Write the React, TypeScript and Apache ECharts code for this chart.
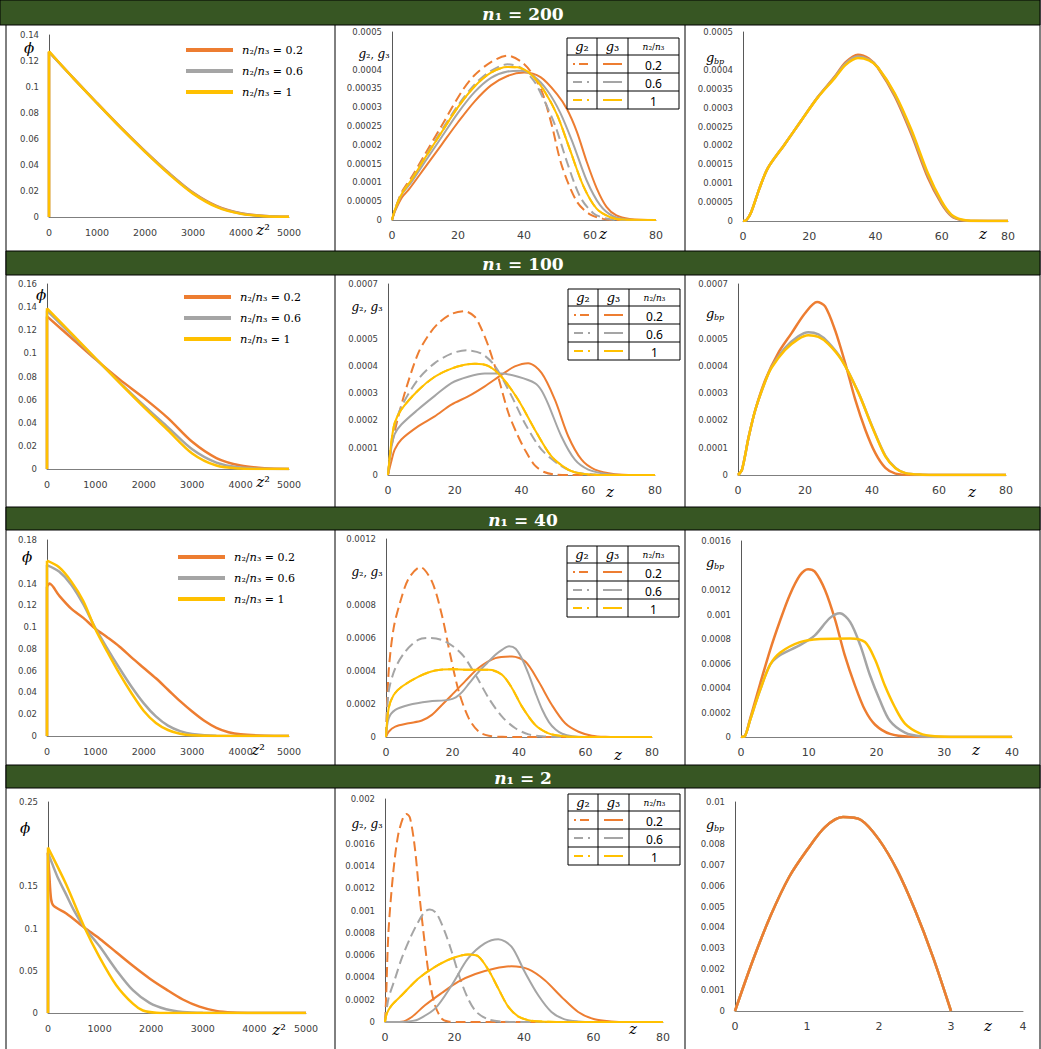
import React, { useEffect, useRef } from 'react';
import * as echarts from 'echarts';

const ORANGE = '#ED7D31';
const GRAY = '#A5A5A5';
const YELLOW = '#FFC000';
const GREEN = '#375623';

const N1_LABELS = ['200', '100', '40', '2'];
const RATIO_LABELS = ['0.2', '0.6', '1'];

// ---------- n1 = 200 ----------
const phi200_02 = [[0,0],[0,0.127],[500,0.1072],[1000,0.0877],[1500,0.0687],[2000,0.0507],[2500,0.0338],[3000,0.0188],[3500,0.0083],[4000,0.0029],[4500,0.0008],[5000,0.0002]];
const phi200_06 = [[0,0],[0,0.127],[500,0.1071],[1000,0.0876],[1500,0.0685],[2000,0.0504],[2500,0.0335],[3000,0.0185],[3500,0.008],[4000,0.0027],[4500,0.0007],[5000,0.0001]];
const phi200_1 = [[0,0],[0,0.1275],[500,0.107],[1000,0.0875],[1500,0.0683],[2000,0.0501],[2500,0.0330],[3000,0.0180],[3500,0.0076],[4000,0.0024],[4500,0.0006],[5000,0.0001]];

const g2_200_02 = [[0,0],[1,0.3e-4],[3,0.75e-4],[6,1.15e-4],[10,1.75e-4],[15,2.5e-4],[21,3.4e-4],[25,3.85e-4],[30,4.2e-4],[35,4.37e-4],[39,4.22e-4],[42,3.95e-4],[45.4,3.42e-4],[48.4,2.53e-4],[51.4,1.46e-4],[56,0.49e-4],[60,0.15e-4],[64,0.03e-4],[68,0],[80,0]];
const g2_200_06 = [[0,0],[1,0.3e-4],[3,0.72e-4],[6,1.1e-4],[10,1.68e-4],[15,2.38e-4],[20,3.05e-4],[25,3.6e-4],[30,3.97e-4],[35,4.14e-4],[39,4.05e-4],[43,3.7e-4],[46,3.2e-4],[49.5,2.5e-4],[53,1.55e-4],[57,0.62e-4],[61,0.18e-4],[65,0.04e-4],[70,0],[80,0]];
const g_200_1 = [[0,0],[1,0.3e-4],[3,0.7e-4],[6,1.08e-4],[10,1.65e-4],[15,2.33e-4],[20,3.0e-4],[25,3.55e-4],[30,3.92e-4],[35,4.07e-4],[38,4.06e-4],[42,3.88e-4],[46,3.45e-4],[50,2.8e-4],[54,1.85e-4],[58,0.9e-4],[62,0.3e-4],[66,0.08e-4],[70,0.01e-4],[80,0]];
const g3_200_06 = [[0,0],[1,0.28e-4],[3,0.68e-4],[6,1.02e-4],[10,1.55e-4],[15,2.2e-4],[20,2.85e-4],[25,3.4e-4],[30,3.78e-4],[35,3.95e-4],[39,3.97e-4],[43,3.82e-4],[47,3.45e-4],[51,2.85e-4],[55,2.0e-4],[59,1.05e-4],[63,0.4e-4],[67,0.1e-4],[72,0.01e-4],[80,0]];
const g3_200_02 = [[0,0],[1,0.25e-4],[3,0.6e-4],[5,0.8e-4],[10,1.4e-4],[15,2.0e-4],[20,2.6e-4],[25,3.15e-4],[30,3.58e-4],[35,3.83e-4],[40,3.92e-4],[45,3.8e-4],[50,3.35e-4],[53,2.95e-4],[56,2.35e-4],[59,1.55e-4],[62,0.85e-4],[65,0.35e-4],[68,0.12e-4],[72,0.03e-4],[80,0]];

const gbp200_02 = [[0,0],[1,0.02e-4],[2.5,0.24e-4],[5,0.87e-4],[7.5,1.4e-4],[12.6,2.03e-4],[17.6,2.66e-4],[22.6,3.28e-4],[27.7,3.82e-4],[31,4.2e-4],[34.7,4.4e-4],[38,4.3e-4],[40.7,4.05e-4],[45.8,3.3e-4],[50.8,2.3e-4],[55.8,1.15e-4],[59.9,0.46e-4],[62.9,0.13e-4],[66,0.02e-4],[70,0],[80,0]];
const gbp200_06 = [[0,0],[1,0.02e-4],[2.5,0.24e-4],[5,0.87e-4],[7.5,1.4e-4],[12.6,2.03e-4],[17.6,2.66e-4],[22.6,3.28e-4],[27.7,3.8e-4],[31,4.17e-4],[34.7,4.35e-4],[38,4.27e-4],[40.7,4.07e-4],[45.8,3.35e-4],[50.8,2.37e-4],[55.8,1.22e-4],[59.9,0.5e-4],[62.9,0.15e-4],[66,0.03e-4],[70,0],[80,0]];
const gbp200_1 = [[0,0],[1,0.02e-4],[2.5,0.24e-4],[5,0.87e-4],[7.5,1.4e-4],[12.6,2.03e-4],[17.6,2.66e-4],[22.6,3.27e-4],[27.7,3.78e-4],[31,4.13e-4],[34.7,4.31e-4],[38,4.25e-4],[40.7,4.07e-4],[45.8,3.38e-4],[50.8,2.42e-4],[55.8,1.27e-4],[59.9,0.53e-4],[62.9,0.17e-4],[66,0.04e-4],[70,0.005e-4],[80,0]];

// ---------- n1 = 100 ----------
const phi100_02 = [[0,0],[0,0.132],[500,0.1135],[1000,0.095],[1500,0.0775],[2000,0.0615],[2500,0.044],[3000,0.0235],[3500,0.0095],[4000,0.003],[4500,0.0007],[5000,0.0001]];
const phi100_06 = [[0,0],[0,0.137],[500,0.1165],[1000,0.0955],[1500,0.075],[2000,0.055],[2500,0.036],[3000,0.017],[3500,0.0055],[4000,0.0012],[4500,0.0002],[5000,0]];
const phi100_1 = [[0,0],[0,0.139],[500,0.1175],[1000,0.096],[1500,0.0745],[2000,0.0535],[2500,0.0335],[3000,0.0135],[3500,0.003],[4000,0.0004],[4500,0],[5000,0]];

const g2_100_02 = [[0,0],[1,1.0e-4],[3,2.1e-4],[5.5,3.2e-4],[9,4.45e-4],[12,5.1e-4],[15,5.55e-4],[19,5.9e-4],[23,6.0e-4],[26,5.8e-4],[28,5.35e-4],[30,4.75e-4],[33,3.6e-4],[36,2.3e-4],[38.5,1.55e-4],[41,0.93e-4],[44,0.35e-4],[47,0.1e-4],[50,0.02e-4],[55,0],[80,0]];
const g2_100_06 = [[0,0],[1,1.1e-4],[2,1.8e-4],[4,2.5e-4],[9,3.5e-4],[14,4.1e-4],[19,4.45e-4],[23.5,4.57e-4],[28,4.45e-4],[32,4.0e-4],[37,2.9e-4],[41,1.9e-4],[46,0.93e-4],[52,0.32e-4],[56,0.1e-4],[62,0.02e-4],[66,0],[80,0]];
const g_100_1 = [[0,0],[1,1.2e-4],[2,1.9e-4],[4,2.4e-4],[9,3.1e-4],[14,3.6e-4],[19,3.9e-4],[23,4.04e-4],[26,4.08e-4],[30,4.0e-4],[34,3.6e-4],[39,2.76e-4],[44,1.66e-4],[49,0.68e-4],[54,0.2e-4],[58,0.05e-4],[65,0],[80,0]];
const g3_100_06 = [[0,0],[1,1.0e-4],[2,1.5e-4],[4,1.85e-4],[9,2.4e-4],[14,2.9e-4],[19,3.37e-4],[24,3.6e-4],[29,3.72e-4],[34,3.72e-4],[39,3.6e-4],[44,3.37e-4],[46,3.1e-4],[48,2.6e-4],[52,1.4e-4],[56,0.56e-4],[60,0.2e-4],[66,0.03e-4],[72,0],[80,0]];
const g3_100_02 = [[0,0],[1,0.5e-4],[2,0.93e-4],[4,1.3e-4],[9,1.78e-4],[14,2.15e-4],[19,2.58e-4],[24,2.88e-4],[29,3.25e-4],[34,3.67e-4],[38,3.98e-4],[42,4.1e-4],[46,3.74e-4],[50,2.76e-4],[54,1.42e-4],[58,0.56e-4],[62,0.2e-4],[68,0.03e-4],[74,0],[80,0]];

const gbp100_02 = [[0,0],[1.2,0.2e-4],[3.2,1.4e-4],[5.2,2.4e-4],[8.2,3.5e-4],[12,4.47e-4],[16,5.2e-4],[20,5.93e-4],[23.6,6.34e-4],[26,6.18e-4],[29,5.3e-4],[32,4.1e-4],[35,2.76e-4],[38,1.66e-4],[41,0.8e-4],[44,0.26e-4],[47,0.05e-4],[52,0],[80,0]];
const gbp100_06 = [[0,0],[1.2,0.2e-4],[3.2,1.4e-4],[5.2,2.4e-4],[8.2,3.45e-4],[10,3.95e-4],[14,4.65e-4],[18,5.08e-4],[21,5.23e-4],[24,5.15e-4],[27,4.85e-4],[31,4.22e-4],[36,3.0e-4],[40,1.8e-4],[44,0.7e-4],[47,0.26e-4],[50,0.07e-4],[55,0.01e-4],[60,0],[80,0]];
const gbp100_1 = [[0,0],[1.2,0.2e-4],[3.2,1.4e-4],[5.2,2.4e-4],[8.2,3.45e-4],[10,3.93e-4],[14,4.58e-4],[18,4.98e-4],[21,5.12e-4],[24,5.06e-4],[27,4.8e-4],[31,4.2e-4],[36,3.0e-4],[40,1.78e-4],[44,0.68e-4],[47,0.25e-4],[50,0.07e-4],[55,0.01e-4],[60,0],[80,0]];

// ---------- n1 = 40 ----------
const phi40_02 = [[0,0],[0,0.137],[50,0.14],[250,0.129],[500,0.117],[750,0.1085],[1000,0.0985],[1250,0.0905],[1500,0.082],[1750,0.072],[2000,0.0625],[2250,0.053],[2500,0.0425],[2750,0.032],[3000,0.0225],[3250,0.014],[3500,0.0075],[3750,0.0035],[4000,0.0015],[4500,0.0003],[5000,0]];
const phi40_06 = [[0,0],[0,0.157],[250,0.151],[500,0.139],[750,0.121],[1000,0.099],[1250,0.08],[1500,0.062],[1750,0.045],[2000,0.03],[2250,0.018],[2500,0.0095],[2750,0.0045],[3000,0.0018],[3500,0.0002],[5000,0]];
const phi40_1 = [[0,0],[0,0.161],[250,0.155],[500,0.142],[750,0.124],[1000,0.098],[1250,0.077],[1500,0.057],[1750,0.039],[2000,0.023],[2250,0.012],[2500,0.0055],[2750,0.002],[3000,0.0006],[3500,0],[5000,0]];

const g2_40_02 = [[0,0],[0.8,3.97e-4],[2.3,6.6e-4],[4.3,8.2e-4],[6.8,9.6e-4],[10.3,10.3e-4],[13.8,9.43e-4],[16.8,7.4e-4],[19.3,5.0e-4],[21.9,2.75e-4],[24.9,1.13e-4],[27.9,0.32e-4],[30.9,0.08e-4],[35,0.01e-4],[40,0],[80,0]];
const g2_40_06 = [[0,0],[0.8,2.75e-4],[2.8,4.17e-4],[5.8,5.18e-4],[9.8,5.9e-4],[13.3,6.0e-4],[17.8,5.8e-4],[22.9,5.0e-4],[26.9,3.77e-4],[30.9,2.35e-4],[34.9,1.23e-4],[38.9,0.53e-4],[42.9,0.16e-4],[47,0.04e-4],[52,0],[80,0]];
const g_40_1 = [[0,0],[0.8,1.74e-4],[2.3,2.55e-4],[4.8,3.06e-4],[9.8,3.66e-4],[14.8,4.03e-4],[19.9,4.11e-4],[24.9,4.07e-4],[30.9,4.07e-4],[34.9,3.77e-4],[37.9,2.96e-4],[40.9,1.84e-4],[44.9,0.73e-4],[48.9,0.22e-4],[52.9,0.06e-4],[58,0],[80,0]];
const g3_40_06 = [[0,0],[0.8,1.13e-4],[2.8,1.64e-4],[6.8,1.94e-4],[12.8,2.15e-4],[18.8,2.25e-4],[21,2.4e-4],[23,2.75e-4],[25,3.25e-4],[27,3.75e-4],[29,4.2e-4],[31,4.6e-4],[33,5.0e-4],[35,5.3e-4],[37,5.5e-4],[39,5.35e-4],[41,4.7e-4],[43,3.75e-4],[45,2.65e-4],[47,1.65e-4],[49,0.9e-4],[51,0.45e-4],[53,0.2e-4],[56,0.05e-4],[60,0],[80,0]];
const g3_40_02 = [[0,0],[0.8,0.32e-4],[2.8,0.63e-4],[6.8,0.83e-4],[10.8,1.0e-4],[13.8,1.34e-4],[16.8,1.94e-4],[19.8,2.55e-4],[23.9,3.4e-4],[27.9,4.2e-4],[32.9,4.78e-4],[37.9,4.88e-4],[41.9,4.57e-4],[45.9,3.36e-4],[49.9,1.94e-4],[53.9,0.83e-4],[57.9,0.32e-4],[61.9,0.08e-4],[66,0.01e-4],[70,0],[80,0]];

const gbp40_02 = [[0,0],[0.6,0.1e-4],[1.3,1.4e-4],[2.8,4.3e-4],[4.3,7.1e-4],[5.8,9.55e-4],[7.2,11.6e-4],[8.7,13.2e-4],[9.9,13.7e-4],[10.9,13.5e-4],[12.4,12.0e-4],[13.9,9.55e-4],[15.3,6.7e-4],[16.8,4.24e-4],[18.3,2.2e-4],[19.8,1.0e-4],[22,0.25e-4],[25,0.02e-4],[28,0],[40,0]];
const gbp40_06 = [[0,0],[0.6,0.1e-4],[1.3,1.3e-4],[2.8,3.8e-4],[4.3,5.9e-4],[5.8,6.7e-4],[8.7,7.5e-4],[10.9,8.3e-4],[13.1,9.7e-4],[14.6,10.1e-4],[16.1,9.4e-4],[17.6,7.5e-4],[19,5.1e-4],[20.5,3.0e-4],[22,1.3e-4],[24.2,0.35e-4],[26.4,0.06e-4],[30,0],[40,0]];
const gbp40_1 = [[0,0],[0.6,0.1e-4],[1.3,1.3e-4],[2.8,3.8e-4],[4.3,5.9e-4],[5.8,6.9e-4],[8.7,7.75e-4],[11.7,8.0e-4],[16.1,8.05e-4],[18.3,7.75e-4],[19.8,6.3e-4],[21.2,4.24e-4],[22.7,2.45e-4],[24.2,1.1e-4],[26.4,0.3e-4],[28.6,0.06e-4],[32,0],[40,0]];

// ---------- n1 = 2 ----------
const phi2_02 = [[0,0],[0,0.19],[25,0.165],[60,0.135],[110,0.127],[355,0.118],[710,0.101],[1000,0.088],[1323,0.072],[1645,0.056],[1968,0.041],[2290,0.028],[2613,0.016],[2935,0.0075],[3258,0.0025],[3581,0.0007],[4000,0.0001],[5000,0]];
const phi2_06 = [[0,0],[0,0.19],[100,0.174],[200,0.159],[355,0.14],[500,0.122],[710,0.101],[1000,0.079],[1323,0.051],[1645,0.027],[1968,0.012],[2290,0.0045],[2613,0.0012],[3000,0.0002],[5000,0]];
const phi2_1 = [[0,0],[0,0.196],[355,0.152],[710,0.101],[1000,0.066],[1323,0.033],[1645,0.011],[1839,0.003],[2100,0.0004],[2500,0],[5000,0]];

const g2_2_02 = [[0,0],[0.3,2e-4],[1,8.1e-4],[2.4,13.5e-4],[3.8,16.8e-4],[5.3,18.4e-4],[6.2,18.65e-4],[7.2,18.3e-4],[8.6,15.6e-4],[10,11.1e-4],[11.5,6.9e-4],[12.9,3.6e-4],[14.4,1.5e-4],[16.3,0.3e-4],[18.2,0.05e-4],[22,0],[80,0]];
const g2_2_06 = [[0,0],[1,2.1e-4],[2.9,3.9e-4],[4.8,5.7e-4],[7.2,7.5e-4],[9.6,9.0e-4],[11.5,9.9e-4],[12.9,10.1e-4],[14.8,9.75e-4],[17.2,8.1e-4],[19.2,6.3e-4],[21.6,3.9e-4],[23.9,2.1e-4],[26.3,0.9e-4],[29.7,0.24e-4],[33.5,0.04e-4],[38,0],[80,0]];
const g_2_1 = [[0,0],[0.5,0.75e-4],[1.9,1.5e-4],[4.8,2.4e-4],[9.6,3.9e-4],[14.4,4.95e-4],[19.2,5.7e-4],[23.9,6.06e-4],[26.8,5.9e-4],[29.7,4.7e-4],[32.6,3.0e-4],[35.4,1.4e-4],[38.3,0.5e-4],[42,0.12e-4],[47,0.02e-4],[52,0],[80,0]];
const g3_2_06 = [[0,0],[5,0],[8,0.1e-4],[9.6,0.24e-4],[14.4,1.2e-4],[19.2,3.3e-4],[23.9,5.7e-4],[28.7,7.05e-4],[32.6,7.43e-4],[36.4,6.75e-4],[40.2,4.5e-4],[44.1,2.4e-4],[47.9,0.9e-4],[51.7,0.24e-4],[55.6,0.05e-4],[60,0],[80,0]];
const g3_2_02 = [[0,0],[3,0],[4.8,0.02e-4],[7.7,0.45e-4],[11.5,1.5e-4],[16.3,2.6e-4],[21,3.6e-4],[26,4.3e-4],[31.6,4.8e-4],[36.4,5.0e-4],[41.2,4.74e-4],[46,3.75e-4],[50.8,2.25e-4],[55.6,0.9e-4],[60.3,0.24e-4],[65.1,0.05e-4],[70,0],[80,0]];

const gbp2 = [[0,0],[0.25,2.44e-3],[0.5,4.6e-3],[0.75,6.4e-3],[1,7.7e-3],[1.25,8.8e-3],[1.5,9.28e-3],[1.75,9.14e-3],[2,8.2e-3],[2.25,6.75e-3],[2.5,4.83e-3],[2.75,2.58e-3],[3,0]];

// ---------- layout ----------
type S = { data: number[][]; color: string; dash?: boolean };
const PANELS: any[] = [
  { x0: 49, x1: 289, yt: 35, yb: 217, xmax: 5000, xint: 1000, ymax: 0.14, yint: 0.02, hide: [], xf: 9.5, lw: 2.5 },
  { x0: 392, x1: 656, yt: 32, yb: 220, xmax: 80, xint: 20, ymax: 0.0005, yint: 0.00005, hide: [0.00045], xf: 11, lw: 2 },
  { x0: 743, x1: 1008, yt: 32, yb: 221, xmax: 80, xint: 20, ymax: 0.0005, yint: 0.00005, hide: [0.00045], xf: 11, lw: 2.5 },
  { x0: 47, x1: 289, yt: 284, yb: 469, xmax: 5000, xint: 1000, ymax: 0.16, yint: 0.02, hide: [], xf: 9.5, lw: 2.5 },
  { x0: 388, x1: 655, yt: 284, yb: 475, xmax: 80, xint: 20, ymax: 0.0007, yint: 0.0001, hide: [0.0006], xf: 11, lw: 2 },
  { x0: 738, x1: 1006, yt: 284, yb: 475, xmax: 80, xint: 20, ymax: 0.0007, yint: 0.0001, hide: [0.0006], xf: 11, lw: 2.5 },
  { x0: 47, x1: 289, yt: 540, yb: 736, xmax: 5000, xint: 1000, ymax: 0.18, yint: 0.02, hide: [0.16], xf: 9.5, lw: 2.5 },
  { x0: 386, x1: 652, yt: 539, yb: 737, xmax: 80, xint: 20, ymax: 0.0012, yint: 0.0002, hide: [0.001], xf: 11, lw: 2 },
  { x0: 741, x1: 1012, yt: 541, yb: 737, xmax: 40, xint: 10, ymax: 0.0016, yint: 0.0002, hide: [0.0014], xf: 11, lw: 2.5 },
  { x0: 48, x1: 306, yt: 802, yb: 1013, xmax: 5000, xint: 1000, ymax: 0.25, yint: 0.05, hide: [0.2], xf: 9.5, lw: 2.5 },
  { x0: 385, x1: 663, yt: 799, yb: 1022, xmax: 80, xint: 20, ymax: 0.002, yint: 0.0002, hide: [0.0018], xf: 11, lw: 2 },
  { x0: 735, x1: 1023, yt: 802, yb: 1011, xmax: 4, xint: 1, ymax: 0.01, yint: 0.001, hide: [0.009], xf: 11, lw: 2.5 },
];

const PANEL_SERIES: S[][] = [
  [{ data: phi200_02, color: ORANGE }, { data: phi200_06, color: GRAY }, { data: phi200_1, color: YELLOW }],
  [{ data: g2_200_02, color: ORANGE, dash: true }, { data: g2_200_06, color: GRAY, dash: true }, { data: g_200_1, color: YELLOW, dash: true },
   { data: g3_200_02, color: ORANGE }, { data: g3_200_06, color: GRAY }, { data: g_200_1, color: YELLOW }],
  [{ data: gbp200_02, color: ORANGE }, { data: gbp200_06, color: GRAY }, { data: gbp200_1, color: YELLOW }],
  [{ data: phi100_02, color: ORANGE }, { data: phi100_06, color: GRAY }, { data: phi100_1, color: YELLOW }],
  [{ data: g2_100_02, color: ORANGE, dash: true }, { data: g2_100_06, color: GRAY, dash: true }, { data: g_100_1, color: YELLOW, dash: true },
   { data: g3_100_02, color: ORANGE }, { data: g3_100_06, color: GRAY }, { data: g_100_1, color: YELLOW }],
  [{ data: gbp100_02, color: ORANGE }, { data: gbp100_06, color: GRAY }, { data: gbp100_1, color: YELLOW }],
  [{ data: phi40_02, color: ORANGE }, { data: phi40_06, color: GRAY }, { data: phi40_1, color: YELLOW }],
  [{ data: g2_40_02, color: ORANGE, dash: true }, { data: g2_40_06, color: GRAY, dash: true }, { data: g_40_1, color: YELLOW, dash: true },
   { data: g3_40_02, color: ORANGE }, { data: g3_40_06, color: GRAY }, { data: g_40_1, color: YELLOW }],
  [{ data: gbp40_02, color: ORANGE }, { data: gbp40_06, color: GRAY }, { data: gbp40_1, color: YELLOW }],
  [{ data: phi2_02, color: ORANGE }, { data: phi2_06, color: GRAY }, { data: phi2_1, color: YELLOW }],
  [{ data: g2_2_02, color: ORANGE, dash: true }, { data: g2_2_06, color: GRAY, dash: true }, { data: g_2_1, color: YELLOW, dash: true },
   { data: g3_2_02, color: ORANGE }, { data: g3_2_06, color: GRAY }, { data: g_2_1, color: YELLOW }],
  [{ data: gbp2, color: YELLOW }, { data: gbp2, color: GRAY }, { data: gbp2, color: ORANGE }],
];

const HEADER_Y = [[0, 25], [251, 275], [507, 530], [765, 788]];
const CELL_X = [6, 335, 685, 1040];
const LEGEND_POS = [[186, 50], [184, 297], [178, 557]];
const TABLE_POS = [[567, 38], [568, 289], [567, 546], [568, 794]];
const PHI_POS = [[29, 48], [41, 295], [27, 557], [25, 828]];
const Z2_POS = [[263, 230], [263, 482], [258, 750], [279, 1030]];
const G23_POS = [[374, 54], [367, 307], [367, 572], [367, 824]];
const GBP_POS = [[706, 57], [706, 313], [706, 562], [706, 824]];
const ZC2_POS = [[603, 234], [610, 492], [618, 755], [633, 1029]];
const ZC3_POS = [[983, 234], [972, 492], [976, 750], [988, 1026]];

const fmt = (v: number) => String(parseFloat(Number(v).toPrecision(6)));
const SERIF = 'DejaVu Serif';
const SANS = 'DejaVu Sans';
const LABEL_COLOR = '#404040';

function txt(x: number, y: number, text: string, o: any = {}) {
  return {
    type: 'text', x, y, silent: true, z: 50,
    style: {
      text, fill: o.fill || '#000', fontSize: o.size || 12, fontFamily: o.family || SERIF,
      fontStyle: o.italic ? 'italic' : 'normal', fontWeight: o.bold ? 'bold' : 'normal',
      align: o.align || 'center', textAlign: o.align || 'center',
      verticalAlign: 'middle', textVerticalAlign: 'middle', rich: o.rich,
    },
  };
}
function ln(x1: number, y1: number, x2: number, y2: number, stroke: string, w = 1, z = 50) {
  return { type: 'line', silent: true, z, shape: { x1, y1, x2, y2 }, style: { stroke, lineWidth: w } };
}

function buildGraphics() {
  const g: any[] = [];
  CELL_X.forEach((x) => g.push(ln(x, 0, x, 1049, '#000', 1, 40)));
  HEADER_Y.forEach(([y0, y1], r) => {
    const x0 = r === 0 ? 0 : 6;
    g.push({ type: 'rect', silent: true, z: 45, shape: { x: x0, y: y0, width: 1040 - x0, height: y1 - y0 }, style: { fill: GREEN, stroke: '#000', lineWidth: 1 } });
    g.push(txt(523, (y0 + y1) / 2 + 1, `{a|n}₁ = ${N1_LABELS[r]}`, { size: 17, bold: true, fill: '#fff', rich: { a: { fontStyle: 'italic', fontWeight: 'bold', fill: '#fff', color: '#fff', fontSize: 17, fontFamily: SERIF } } }));
  });
  LEGEND_POS.forEach(([x, y]) => {
    [ORANGE, GRAY, YELLOW].forEach((c, k) => {
      const yy = y + k * 21;
      g.push(ln(x, yy, x + 47, yy, c, 4));
      g.push(txt(x + 56, yy, `{i|n}₂/{i|n}₃ = ${RATIO_LABELS[k]}`, { size: 11, align: 'left', rich: { i: { fontStyle: 'italic', fontSize: 11.5, fontFamily: SERIF } } }));
    });
  });
  TABLE_POS.forEach(([x, y]) => {
    const w = [30, 31, 51];
    const hh = 17, rh = 18;
    const W = w[0] + w[1] + w[2];
    const H = hh + 3 * rh;
    g.push({ type: 'rect', silent: true, z: 48, shape: { x, y, width: W, height: H }, style: { fill: '#fff', stroke: '#000', lineWidth: 1 } });
    g.push(ln(x + w[0], y, x + w[0], y + H, '#000'));
    g.push(ln(x + w[0] + w[1], y, x + w[0] + w[1], y + H, '#000'));
    for (let k = 0; k < 3; k++) g.push(ln(x, y + hh + k * rh, x + W, y + hh + k * rh, '#000'));
    g.push(txt(x + w[0] / 2, y + hh / 2, '{i|g}₂', { size: 13, rich: { i: { fontStyle: 'italic', fontSize: 13, fontFamily: SERIF } } }));
    g.push(txt(x + w[0] + w[1] / 2, y + hh / 2, '{i|g}₃', { size: 13, rich: { i: { fontStyle: 'italic', fontSize: 13, fontFamily: SERIF } } }));
    g.push(txt(x + w[0] + w[1] + w[2] / 2, y + hh / 2, '{i|n}₂/{i|n}₃', { size: 9, rich: { i: { fontStyle: 'italic', fontSize: 9, fontFamily: SERIF } } }));
    [ORANGE, GRAY, YELLOW].forEach((c, k) => {
      const yy = y + hh + k * rh + rh / 2;
      if (k === 0) {
        g.push(ln(x + 6, yy, x + 8, yy, c, 2));
        g.push(ln(x + 12, yy, x + 21, yy, c, 2));
      } else {
        g.push(ln(x + 6, yy, x + 15, yy, c, 2));
        g.push(ln(x + 20, yy, x + 22, yy, c, 2));
      }
      g.push(ln(x + w[0] + 6, yy, x + w[0] + 25, yy, c, 2));
      g.push(txt(x + w[0] + w[1] + w[2] / 2, yy + 1, RATIO_LABELS[k], { size: 12, family: 'Noto Sans' }));
    });
  });
  PHI_POS.forEach(([x, y]) => g.push(txt(x, y, 'ϕ', { size: 15, italic: true })));
  Z2_POS.forEach(([x, y]) => g.push(txt(x, y, '{i|z}²', { size: 14, rich: { i: { fontStyle: 'italic', fontSize: 15, fontFamily: SERIF } } })));
  G23_POS.forEach(([x, y]) => g.push(txt(x, y, '{i|g}₂, {i|g}₃', { size: 11, rich: { i: { fontStyle: 'italic', fontSize: 12, fontFamily: SERIF } } })));
  GBP_POS.forEach(([x, y]) => {
    g.push(txt(x, y, 'g', { size: 13, italic: true, align: 'left' }));
    g.push(txt(x + 8, y + 4, 'bp', { size: 8, italic: true, align: 'left' }));
  });
  [...ZC2_POS, ...ZC3_POS].forEach(([x, y]) => g.push(txt(x, y, 'z', { size: 15, italic: true })));
  return g;
}

function buildOption() {
  const grid = PANELS.map((p) => ({ left: p.x0, top: p.yt, width: p.x1 - p.x0, height: p.yb - p.yt, containLabel: false }));
  const xAxis = PANELS.map((p, i) => ({
    gridIndex: i, type: 'value', min: 0, max: p.xmax, interval: p.xint,
    axisLine: { show: true, onZero: false, lineStyle: { color: '#7f7f7f', width: 1 } },
    axisTick: { show: false }, splitLine: { show: false },
    axisLabel: { fontSize: p.xf, color: LABEL_COLOR, fontFamily: SANS, margin: 10, formatter: (v: number) => fmt(v), showMinLabel: true, showMaxLabel: true },
  }));
  const yAxis = PANELS.map((p, i) => ({
    gridIndex: i, type: 'value', min: 0, max: p.ymax, interval: p.yint,
    axisLine: { show: true, onZero: false, lineStyle: { color: '#595959', width: 1 } },
    axisTick: { show: false }, splitLine: { show: false },
    axisLabel: {
      fontSize: 8.5, color: LABEL_COLOR, fontFamily: SANS, margin: 10, showMinLabel: true, showMaxLabel: true,
      formatter: (v: number) => (p.hide.some((h: number) => Math.abs(h - v) < p.yint * 0.01) ? '' : fmt(v)),
    },
  }));
  const series: any[] = [];
  PANEL_SERIES.forEach((list, i) => {
    list.forEach((s, k) => {
      const base = {
        type: 'line', xAxisIndex: i, yAxisIndex: i, showSymbol: false, symbol: 'none', silent: true, z: 2 + k,
        lineStyle: { color: s.color, width: PANELS[i].lw, type: s.dash ? [10, 5] : 'solid', cap: 'butt' },
        itemStyle: { color: s.color },
      };
      const d = s.data;
      if (d.length > 2 && d[0][0] === d[1][0]) {
        series.push({ ...base, data: d.slice(0, 2), smooth: false });
        series.push({ ...base, data: d.slice(1), smooth: 0.3 });
      } else {
        series.push({ ...base, data: d, smooth: 0.3 });
      }
    });
  });
  return {
    animation: false, backgroundColor: '#ffffff',
    grid, xAxis, yAxis, series, graphic: buildGraphics(),
  };
}

export default function App() {
  const ref = useRef<HTMLDivElement>(null);
  useEffect(() => {
    if (!ref.current) return;
    const chart = echarts.init(ref.current, undefined, { renderer: 'svg' });
    chart.setOption(buildOption() as any);
    return () => chart.dispose();
  }, []);
  return <div ref={ref} style={{ position: 'fixed', left: 0, top: 0, width: 1041, height: 1049, background: '#fff' }} />;
}
